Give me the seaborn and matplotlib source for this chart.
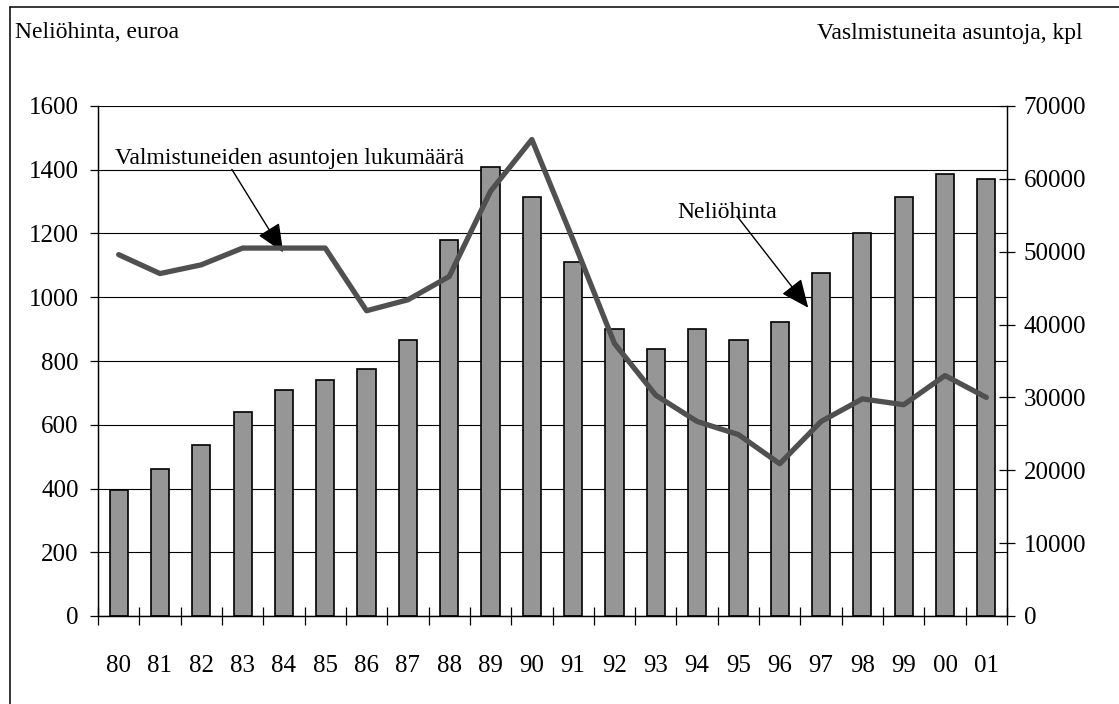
import numpy as np
import pandas as pd
import seaborn as sns
import matplotlib.pyplot as plt
from matplotlib.lines import Line2D

# vuodet 1980-2001
years = ["80", "81", "82", "83", "84", "85", "86", "87", "88", "89", "90",
         "91", "92", "93", "94", "95", "96", "97", "98", "99", "00", "01"]
# neliöhinta, euroa (pylväät, vasen akseli)
price = [395, 460, 535, 640, 710, 740, 775, 865, 1180, 1410, 1315,
         1110, 900, 838, 900, 865, 922, 1075, 1202, 1314, 1388, 1372]
# valmistuneet asunnot, kpl (viiva, oikea akseli)
completed = [49600, 47000, 48200, 50500, 50500, 50500, 41900, 43400, 46600, 58300, 65400,
             51600, 37400, 30300, 26700, 24900, 20900, 26700, 29800, 29000, 33000, 30000]

df = pd.DataFrame({"vuosi": years, "hinta": price, "valmistuneet": completed})

sns.set_theme(style="white")
plt.rcParams["font.family"] = ["Liberation Serif", "DejaVu Serif"]
fs = 18    # akselien numerot
fs_txt = 17  # otsikot ja selitteet

fig = plt.figure(figsize=(11.19, 7.04), dpi=100)
ax = fig.add_axes([98 / 1119, 88 / 704, 909 / 1119, 510 / 704])

sns.barplot(data=df, x="vuosi", y="hinta", ax=ax, color="#969696", saturation=1,
            edgecolor="black", linewidth=1.2, width=0.44, errorbar=None, zorder=2)

ax2 = ax.twinx()
sns.lineplot(data=df, x="vuosi", y="valmistuneet", ax=ax2, color="#505050",
             linewidth=3.8, sort=False)

# vasen akseli
ax.set_ylim(0, 1600)
ax.set_yticks(np.arange(0, 1601, 200))
ax.yaxis.grid(True, color="black", linewidth=0.8)
ax.set_axisbelow(True)
ax.tick_params(axis="y", which="major", direction="out", length=6, width=0.9,
               pad=8, labelsize=fs, colors="black", left=True)

# x-akseli: merkit luokkien välissä
ax.set_xlim(-0.5, len(years) - 0.5)
ax.set_xticks(range(len(years)))
ax.set_xticklabels(years)
ax.set_xticks(np.arange(-0.5, len(years), 1), minor=True)
ax.tick_params(axis="x", which="major", length=0, pad=28, labelsize=fs, colors="black")
ax.tick_params(axis="x", which="minor", direction="inout", length=13, width=0.9,
               bottom=True, color="black")

# oikea akseli
ax2.set_ylim(0, 70000)
ax2.set_yticks(np.arange(0, 70001, 10000))
ax2.tick_params(axis="y", direction="inout", length=12, width=0.9, pad=6,
                labelsize=fs, colors="black", right=True)

for a in (ax, ax2):
    a.set_xlabel("")
    a.set_ylabel("")
    a.spines["top"].set_visible(False)
    for s in ("left", "right", "bottom"):
        a.spines[s].set_color("black")
        a.spines[s].set_linewidth(0.9)

# selitteet nuolineen
arrow = dict(arrowstyle="-|>,head_length=0.8,head_width=0.35", color="black",
             lw=1.0, mutation_scale=22, shrinkA=0, shrinkB=0)
ax.text(-0.09, 1436, "Valmistuneiden asuntojen lukumäärä", ha="left", va="center",
        fontsize=fs_txt, color="black")
ax.annotate("", xy=(3.98, 1141), xytext=(2.74, 1401), arrowprops=arrow, zorder=5)
ax.text(13.52, 1266, "Neliöhinta", ha="left", va="center", fontsize=fs_txt, color="black")
ax.annotate("", xy=(16.69, 967), xytext=(14.97, 1254), arrowprops=arrow, zorder=5)

# akselien otsikot
fig.text(15 / 1119, 1 - 33 / 704, "Neliöhinta, euroa", ha="left", va="center",
         fontsize=fs_txt, color="black")
fig.text(1083 / 1119, 1 - 33 / 704, "Vaslmistuneita asuntoja, kpl", ha="right",
         va="center", fontsize=fs_txt, color="black")

# kehys
fy = 1 - 7 / 704
fx = 10 / 1119
fig.add_artist(Line2D([fx, fx], [0, fy], transform=fig.transFigure, color="black", lw=1.1))
fig.add_artist(Line2D([fx, 1], [fy, fy], transform=fig.transFigure, color="black", lw=1.1))

fig.savefig("out.png", dpi=100)
